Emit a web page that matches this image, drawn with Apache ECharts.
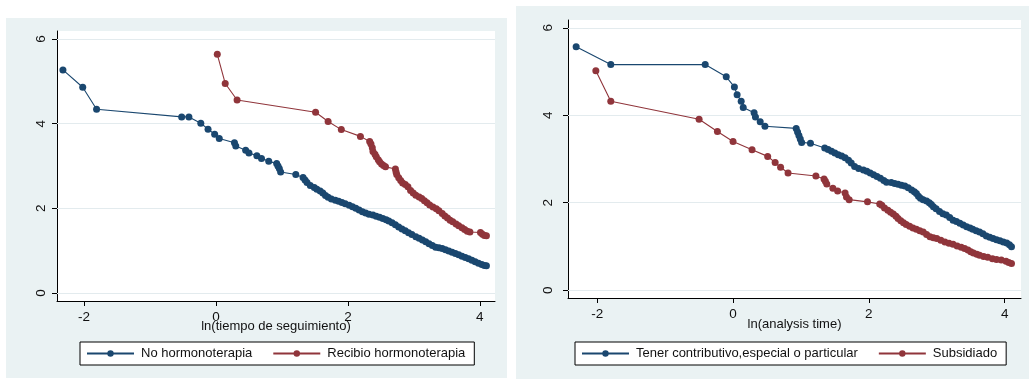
<!DOCTYPE html>
<html>
<head>
<meta charset="utf-8">
<script src="https://cdn.jsdelivr.net/npm/echarts@6/dist/echarts.min.js"></script>
<style>
  html, body { margin: 0; padding: 0; background: #ffffff; }
  #wrap { position: relative; width: 1029px; height: 379px; overflow: hidden; }
  .panel { position: absolute; background: #eaf2f3; }
  #bgL { left: 6px; top: 18px; width: 501px; height: 360px; }
  #bgR { left: 516px; top: 6px; width: 513px; height: 373px; }
  #chart { position: absolute; left: 0; top: 0; width: 1029px; height: 379px; }
</style>
</head>
<body>
<div id="wrap">
  <div class="panel" id="bgL"></div>
  <div class="panel" id="bgR"></div>
  <div id="chart"></div>
</div>
<script>
// ---- Data ----
// Left panel: -ln(-ln S) vs ln(tiempo de seguimiento)
const leftXTitle = 'ln(tiempo de seguimiento)';
const leftNames = ['No hormonoterapia', 'Recibio hormonoterapia'];
const noHormono = [
  [-2.32,5.27],[-2.02,4.86],[-1.81,4.34],[-0.52,4.16],[-0.41,4.16],[-0.23,4.01],[-0.12,3.87],
  [-0.02,3.75],[0.05,3.65],[0.28,3.55],[0.30,3.47],[0.45,3.37],[0.50,3.31],[0.62,3.24],
  [0.69,3.18],[0.80,3.11],[0.92,3.06],[0.94,3.00],[0.96,2.94],[0.98,2.86],[1.21,2.80],
  [1.32,2.73],[1.35,2.67],[1.38,2.61],[1.43,2.54],[1.49,2.49],[1.53,2.45],[1.58,2.41],
  [1.62,2.36],[1.66,2.30],[1.70,2.26],[1.75,2.22],[1.81,2.19],[1.86,2.17],[1.91,2.14],
  [1.96,2.11],[2.02,2.07],[2.07,2.04],[2.12,2.00],[2.17,1.96],[2.22,1.92],[2.27,1.89],
  [2.32,1.86],[2.38,1.84],[2.43,1.81],[2.48,1.79],[2.53,1.76],[2.58,1.73],[2.62,1.70],
  [2.67,1.66],[2.72,1.61],[2.77,1.56],[2.82,1.51],[2.87,1.47],[2.92,1.42],[2.97,1.38],
  [3.03,1.33],[3.08,1.29],[3.13,1.25],[3.18,1.21],[3.23,1.16],[3.28,1.12],[3.33,1.08],
  [3.38,1.07],[3.43,1.05],[3.48,1.02],[3.53,0.99],[3.58,0.96],[3.63,0.93],[3.68,0.90],
  [3.73,0.87],[3.78,0.84],[3.83,0.81],[3.88,0.77],[3.93,0.74],[3.98,0.70],[4.03,0.67],
  [4.07,0.65],[4.10,0.64]
];
const recibioHormono = [
  [0.02,5.64],[0.14,4.95],[0.32,4.56],[1.51,4.27],[1.70,4.05],[1.90,3.86],[2.19,3.70],
  [2.33,3.58],[2.35,3.52],[2.37,3.43],[2.38,3.34],[2.41,3.28],[2.43,3.22],[2.46,3.15],
  [2.48,3.10],[2.51,3.05],[2.54,3.01],[2.57,2.98],[2.72,2.93],[2.73,2.86],[2.74,2.80],
  [2.77,2.72],[2.80,2.66],[2.83,2.60],[2.87,2.56],[2.91,2.51],[2.95,2.42],[2.99,2.36],
  [3.03,2.31],[3.08,2.27],[3.12,2.23],[3.16,2.18],[3.20,2.13],[3.24,2.08],[3.29,2.03],
  [3.34,1.99],[3.38,1.94],[3.43,1.88],[3.47,1.82],[3.51,1.77],[3.55,1.72],[3.59,1.68],
  [3.64,1.63],[3.68,1.59],[3.73,1.54],[3.77,1.50],[3.81,1.46],[3.85,1.44],[4.01,1.43],
  [4.04,1.39],[4.07,1.36],[4.10,1.35]
];
// Right panel: -ln(-ln S) vs ln(analysis time)
const rightXTitle = 'ln(analysis time)';
const rightNames = ['Tener contributivo,especial o particular', 'Subsidiado'];
const contributivo = [
  [-2.31,5.57],[-1.80,5.16],[-0.41,5.16],[-0.10,4.88],[0.02,4.65],[0.06,4.47],[0.12,4.32],
  [0.15,4.18],[0.31,4.06],[0.33,3.96],[0.40,3.85],[0.47,3.75],[0.93,3.70],[0.95,3.62],
  [0.97,3.54],[0.99,3.46],[1.01,3.38],[1.14,3.36],[1.35,3.25],[1.40,3.22],[1.45,3.18],
  [1.50,3.14],[1.55,3.10],[1.60,3.07],[1.65,3.03],[1.70,2.97],[1.74,2.91],[1.79,2.83],
  [1.85,2.78],[1.92,2.75],[1.97,2.72],[2.02,2.68],[2.07,2.64],[2.12,2.60],[2.17,2.56],
  [2.22,2.51],[2.26,2.47],[2.33,2.46],[2.38,2.44],[2.43,2.42],[2.48,2.40],[2.53,2.38],
  [2.58,2.34],[2.63,2.29],[2.67,2.25],[2.70,2.21],[2.73,2.15],[2.76,2.10],[2.80,2.07],
  [2.85,2.04],[2.89,2.00],[2.92,1.96],[2.95,1.91],[2.99,1.86],[3.04,1.80],[3.09,1.75],
  [3.14,1.72],[3.19,1.66],[3.24,1.60],[3.29,1.57],[3.34,1.53],[3.39,1.49],[3.44,1.45],
  [3.49,1.42],[3.53,1.39],[3.58,1.36],[3.63,1.33],[3.68,1.29],[3.73,1.24],[3.78,1.21],
  [3.83,1.18],[3.88,1.15],[3.93,1.13],[3.98,1.10],[4.03,1.08],[4.07,1.04],[4.10,0.99]
];
const subsidiado = [
  [-2.02,5.02],[-1.80,4.32],[-0.50,3.91],[-0.23,3.63],[0.00,3.40],[0.28,3.21],[0.51,3.06],
  [0.62,2.92],[0.70,2.81],[0.81,2.68],[1.22,2.61],[1.34,2.54],[1.36,2.49],[1.38,2.43],
  [1.47,2.33],[1.54,2.27],[1.65,2.22],[1.67,2.13],[1.71,2.07],[1.98,2.02],[2.16,1.97],
  [2.19,1.94],[2.23,1.88],[2.28,1.83],[2.32,1.78],[2.36,1.74],[2.40,1.69],[2.43,1.64],
  [2.47,1.59],[2.51,1.54],[2.55,1.50],[2.60,1.46],[2.65,1.42],[2.70,1.39],[2.75,1.36],
  [2.80,1.33],[2.85,1.27],[2.90,1.22],[2.95,1.20],[3.00,1.18],[3.06,1.14],[3.12,1.10],
  [3.18,1.07],[3.24,1.05],[3.30,1.01],[3.36,0.98],[3.41,0.95],[3.46,0.92],[3.50,0.88],
  [3.54,0.85],[3.59,0.82],[3.63,0.80],[3.69,0.77],[3.75,0.75],[3.82,0.72],[3.88,0.70],
  [3.95,0.69],[4.02,0.66],[4.06,0.63],[4.10,0.61]
];
const xTicks = [-2, 0, 2, 4];
const yTicks = [0, 2, 4, 6];

// ---- Styling ----
const FONT = '"Liberation Sans", Arial, Helvetica, sans-serif';
const NAVY = '#1a476f';
const MAROON = '#90353b';
const GRIDC = '#e3ebee';

function xAx(idx, min, max, title, gap, margin) {
  return {
    type: 'value', gridIndex: idx, min: min, max: max,
    name: title, nameLocation: 'middle', nameGap: gap, nameMoveOverlap: false,
    nameTextStyle: { fontFamily: FONT, fontSize: 13, color: '#111' },
    axisLine: { show: true, onZero: false, lineStyle: { color: '#000', width: 1 } },
    axisTick: { show: true, length: 5, customValues: xTicks, lineStyle: { color: '#000' } },
    axisLabel: { customValues: xTicks, margin: margin, fontFamily: FONT, fontSize: 13.5, color: '#111',
                 formatter: v => String(v) },
    splitLine: { show: false }
  };
}
function yAx(idx, min, max, margin) {
  return {
    type: 'value', gridIndex: idx, min: min, max: max,
    axisLine: { show: true, onZero: false, lineStyle: { color: '#000', width: 1 } },
    axisTick: { show: true, length: 5, customValues: yTicks, lineStyle: { color: '#000' } },
    axisLabel: { customValues: yTicks, rotate: 90, margin: margin, fontFamily: FONT, fontSize: 13.5, color: '#111',
                 formatter: v => String(v) },
    splitLine: { show: false }
  };
}
function gridLines() {
  return {
    silent: true, symbol: 'none', z: 1, animation: false,
    label: { show: false },
    lineStyle: { color: GRIDC, type: 'solid', width: 1.2 },
    data: yTicks.map(v => ({ yAxis: v }))
  };
}
function ser(name, data, color, idx, withGrid) {
  const s = {
    name: name, type: 'line', data: data, xAxisIndex: idx, yAxisIndex: idx,
    symbol: 'circle', symbolSize: 7, showSymbol: true,
    lineStyle: { color: color, width: 1.1 },
    itemStyle: { color: color },
    z: 3, animation: false
  };
  if (withGrid) s.markLine = gridLines();
  return s;
}
function legend(names, left) {
  return {
    data: names, left: left, top: 342, orient: 'horizontal',
    itemWidth: 47, itemHeight: 8, itemGap: 20,
    padding: [5, 9, 5, 6],
    backgroundColor: '#ffffff', borderColor: '#000', borderWidth: 1, borderRadius: 0,
    textStyle: { fontFamily: FONT, fontSize: 13, color: '#111', padding: [0, 0, 0, 2] },
    selectedMode: false
  };
}

const chart = echarts.init(document.getElementById('chart'), null, { renderer: 'canvas' });
chart.setOption({
  backgroundColor: 'transparent',
  animation: false,
  grid: [
    { left: 57, top: 31, width: 438, height: 270, show: true, backgroundColor: '#ffffff', borderWidth: 0 },
    { left: 568, top: 20, width: 453, height: 278, show: true, backgroundColor: '#ffffff', borderWidth: 0 }
  ],
  xAxis: [ xAx(0, -2.41, 4.23, leftXTitle, 19, 9), xAx(1, -2.43, 4.24, rightXTitle, 20, 9) ],
  yAxis: [ yAx(0, -0.19, 6.19, 9), yAx(1, -0.18, 6.18, 13) ],
  legend: [ legend(leftNames, 80), legend(rightNames, 575) ],
  series: [
    ser(leftNames[0], noHormono, NAVY, 0, true),
    ser(leftNames[1], recibioHormono, MAROON, 0, false),
    ser(rightNames[0], contributivo, NAVY, 1, true),
    ser(rightNames[1], subsidiado, MAROON, 1, false)
  ]
});
</script>
</body>
</html>
